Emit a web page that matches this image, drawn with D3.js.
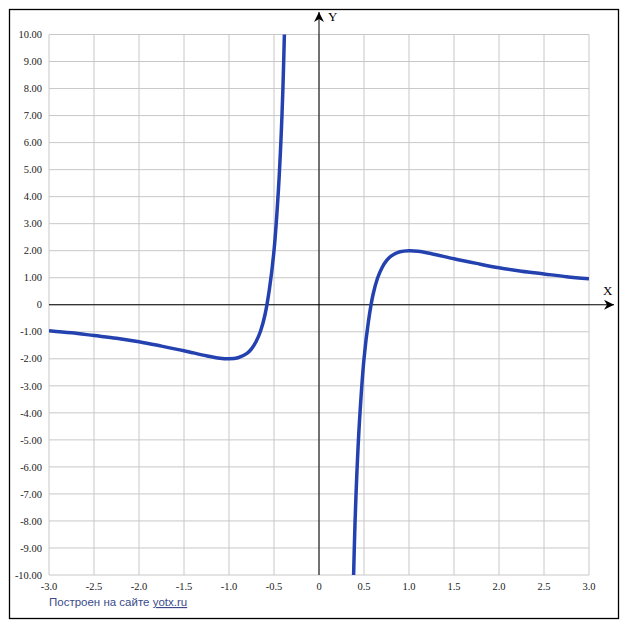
<!DOCTYPE html>
<html>
<head>
<meta charset="utf-8">
<script src="https://cdn.jsdelivr.net/npm/d3@7"></script>
<style>
    body { margin: 0; background: #fff; }
    svg { display: block; }
</style>
</head>
<body>
<div id="chart"></div>
<script>
// points, left branch (x < 0)
const leftX = [-3, -2.75, -2.5, -2.25, -2, -1.75, -1.5, -1.25, -1.1, -1, -0.9, -0.8, -0.75, -0.7, -0.65, -0.6, -0.55, -0.5, -0.45, -0.42, -0.4, -0.38];
const leftY = [-0.96, -1.04, -1.14, -1.24, -1.37, -1.53, -1.70, -1.89, -1.98, -2.0, -1.96, -1.80, -1.63, -1.37, -0.98, -0.37, 0.6, 2.0, 4.3, 6.3, 8.1, 10.6];
// right branch (x > 0)
const rightX = [0.38, 0.4, 0.42, 0.45, 0.5, 0.55, 0.6, 0.65, 0.7, 0.75, 0.8, 0.9, 1, 1.1, 1.25, 1.5, 1.75, 2, 2.25, 2.5, 2.75, 3];
const rightY = [-10.6, -8.1, -6.3, -4.3, -2.0, -0.6, 0.37, 0.98, 1.37, 1.63, 1.80, 1.96, 2.0, 1.98, 1.89, 1.70, 1.53, 1.37, 1.24, 1.14, 1.04, 0.96];

const xTicks = [-3, -2.5, -2, -1.5, -1, -0.5, 0, 0.5, 1, 1.5, 2, 2.5, 3];
const yTicks = [-10, -9, -8, -7, -6, -5, -4, -3, -2, -1, 0, 1, 2, 3, 4, 5, 6, 7, 8, 9, 10];

const width = 627, height = 630;
const margin = { left: 49, right: 38, top: 34.5, bottom: 55 };

const svg = d3.select('#chart').append('svg')
    .attr('width', width)
    .attr('height', height);

// outer frame
svg.append('rect')
    .attr('x', 9.5).attr('y', 9.5)
    .attr('width', 609).attr('height', 609)
    .attr('fill', 'none')
    .attr('stroke', '#000')
    .attr('stroke-width', 1.3);

const xScale = d3.scaleLinear()
    .domain([-3, 3])
    .range([margin.left, width - margin.right]);
const yScale = d3.scaleLinear()
    .domain([-10, 10])
    .range([height - margin.bottom, margin.top]);

// grid
const grid = svg.append('g');
grid.selectAll('.gx').data(xTicks).enter().append('line')
    .attr('x1', d => xScale(d)).attr('x2', d => xScale(d))
    .attr('y1', yScale(10)).attr('y2', yScale(-10))
    .attr('stroke', '#c8c8c8').attr('stroke-width', 1);
grid.selectAll('.gy').data(yTicks).enter().append('line')
    .attr('x1', xScale(-3)).attr('x2', xScale(3))
    .attr('y1', d => yScale(d)).attr('y2', d => yScale(d))
    .attr('stroke', '#c8c8c8').attr('stroke-width', 1);

// tick labels (plain hyphen for minus, like the original)
const labelFont = '"Liberation Serif", "DejaVu Serif", serif';
const fmt = spec => d => d === 0 ? '0' : d3.format(spec)(d).replace('\u2212', '-');

svg.append('g').selectAll('text').data(yTicks).enter().append('text')
    .attr('x', xScale(-3) - 7)
    .attr('y', d => yScale(d))
    .attr('dy', '0.35em')
    .attr('text-anchor', 'end')
    .attr('font-family', labelFont)
    .attr('font-size', 10.5)
    .attr('fill', '#222')
    .text(fmt('.2f'));

svg.append('g').selectAll('text').data(xTicks).enter().append('text')
    .attr('x', d => xScale(d))
    .attr('y', yScale(-10) + 15)
    .attr('text-anchor', 'middle')
    .attr('font-family', labelFont)
    .attr('font-size', 10.5)
    .attr('fill', '#222')
    .text(fmt('.1f'));

// axes with arrows
const defs = svg.append('defs');
defs.append('marker')
    .attr('id', 'arrow')
    .attr('viewBox', '0 0 10 10')
    .attr('refX', 10).attr('refY', 5)
    .attr('markerWidth', 10).attr('markerHeight', 10)
    .attr('markerUnits', 'userSpaceOnUse')
    .attr('orient', 'auto')
    .append('path')
    .attr('d', 'M0,0 L10,5 L0,10 L3,5 Z')
    .attr('fill', '#000');

svg.append('line')
    .attr('x1', xScale(-3)).attr('x2', 614)
    .attr('y1', yScale(0)).attr('y2', yScale(0))
    .attr('stroke', '#000').attr('stroke-width', 1)
    .attr('marker-end', 'url(#arrow)');
svg.append('line')
    .attr('x1', xScale(0)).attr('x2', xScale(0))
    .attr('y1', yScale(-10)).attr('y2', 12)
    .attr('stroke', '#000').attr('stroke-width', 1)
    .attr('marker-end', 'url(#arrow)');

svg.append('text')
    .attr('x', 603).attr('y', yScale(0) - 10)
    .attr('font-family', labelFont).attr('font-size', 13)
    .text('X');
svg.append('text')
    .attr('x', xScale(0) + 9).attr('y', 21)
    .attr('font-family', labelFont).attr('font-size', 13)
    .text('Y');

// curve, clipped to the plot area
defs.append('clipPath').attr('id', 'plot-clip')
    .append('rect')
    .attr('x', xScale(-3)).attr('y', yScale(10))
    .attr('width', xScale(3) - xScale(-3))
    .attr('height', yScale(-10) - yScale(10));

const line = d3.line()
    .x(d => xScale(d[0]))
    .y(d => yScale(d[1]))
    .curve(d3.curveCatmullRom.alpha(0.5));

const branches = [
    leftX.map((x, i) => [x, leftY[i]]),
    rightX.map((x, i) => [x, rightY[i]])
];

svg.append('g').attr('clip-path', 'url(#plot-clip)')
    .selectAll('path').data(branches).enter().append('path')
    .attr('d', line)
    .attr('fill', 'none')
    .attr('stroke', '#2441b0')
    .attr('stroke-width', 3.5)
    .attr('stroke-linejoin', 'round');

// footer
const footer = svg.append('text')
    .attr('x', 49).attr('y', 606)
    .attr('font-family', '"Liberation Sans", Arial, sans-serif')
    .attr('font-size', 11.5)
    .attr('fill', '#3a4a8a');
footer.append('tspan').text('Построен на сайте ');
footer.append('tspan').attr('text-decoration', 'underline').text('yotx.ru');
</script>
</body>
</html>
